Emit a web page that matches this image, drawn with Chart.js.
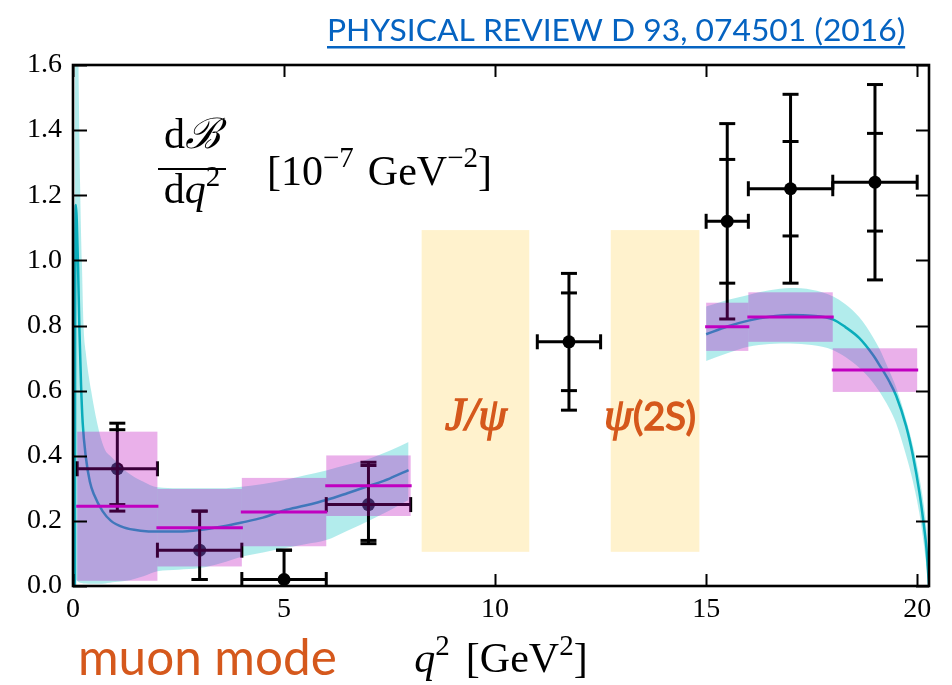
<!DOCTYPE html>
<html>
<head>
<meta charset="utf-8">
<script src="https://cdn.jsdelivr.net/npm/chart.js@4.4.1/dist/chart.umd.min.js"></script>
<style>
  html, body { margin: 0; padding: 0; background: #ffffff; }
  #wrap { position: relative; width: 952px; height: 685px; overflow: hidden; }
</style>
</head>
<body>
<div id="wrap"><canvas id="c" width="952" height="685"></canvas></div>
<script>
// ---- Axis ticks ----
const xTickValues = [0, 5, 10, 15, 20];
const yTickValues = [0.0, 0.2, 0.4, 0.6, 0.8, 1.0, 1.2, 1.4, 1.6];

// ---- Theory curve, low-q2 region: central value ----
const lowCurveQ2 = [0.045, 0.05, 0.06, 0.07, 0.09, 0.12, 0.15, 0.19, 0.23, 0.30, 0.40, 0.50, 0.70, 0.90, 1.2, 1.6, 2.0, 2.5, 3.0, 3.5, 4.0, 4.5, 5.0, 5.5, 6.0, 6.5, 7.0, 7.5, 7.95];
const lowCurve   = [0.0, 0.80, 1.12, 1.17, 1.12, 0.98, 0.80, 0.62, 0.50, 0.40, 0.32, 0.28, 0.23, 0.20, 0.18, 0.17, 0.167, 0.167, 0.172, 0.182, 0.195, 0.21, 0.232, 0.247, 0.264, 0.285, 0.307, 0.33, 0.356];

// ---- Theory band, low-q2 region ----
const lowBandQ2    = [0.045, 0.05, 0.07, 0.10, 0.13, 0.17, 0.21, 0.25, 0.30, 0.43, 0.62, 0.76, 0.88, 1.0, 1.27, 1.67, 2.0, 2.5, 3.0, 3.5, 4.0, 4.5, 5.0, 5.5, 6.0, 6.5, 7.0, 7.5, 7.95];
const lowBandUpper = [0.0, 1.80, 2.30, 1.95, 1.60, 1.22, 1.00, 0.80, 0.72, 0.60, 0.474, 0.418, 0.40, 0.385, 0.351, 0.32, 0.303, 0.30, 0.30, 0.30, 0.305, 0.313, 0.325, 0.34, 0.355, 0.372, 0.39, 0.415, 0.442];
const lowBandLower = [0.0, 0.02, 0.02, 0.015, 0.012, 0.010, 0.009, 0.008, 0.008, 0.007, 0.007, 0.008, 0.010, 0.012, 0.016, 0.03, 0.045, 0.05, 0.055, 0.07, 0.09, 0.103, 0.116, 0.128, 0.141, 0.17, 0.20, 0.232, 0.264];

// ---- Theory curve and band, high-q2 region ----
const highQ2      = [15.0, 15.5, 16.0, 16.5, 17.0, 17.5, 18.0, 18.3, 18.63, 18.95, 19.1, 19.34, 19.5, 19.74, 19.9, 20.05, 20.15, 20.22, 20.28];
const highCurve   = [0.773, 0.797, 0.815, 0.827, 0.832, 0.83, 0.819, 0.795, 0.761, 0.71, 0.68, 0.628, 0.585, 0.49, 0.40, 0.29, 0.195, 0.115, 0.0];
const highUpper   = [0.858, 0.878, 0.894, 0.908, 0.915, 0.91, 0.89, 0.865, 0.825, 0.765, 0.73, 0.66, 0.61, 0.51, 0.43, 0.335, 0.255, 0.175, 0.0];
const highLower   = [0.691, 0.715, 0.735, 0.743, 0.745, 0.74, 0.725, 0.703, 0.67, 0.625, 0.598, 0.545, 0.50, 0.40, 0.32, 0.225, 0.135, 0.06, 0.0];

// ---- Binned theory predictions ----
const thBinLo = [0.1, 2, 4, 6, 15, 16, 18];
const thBinHi = [2, 4, 6, 8, 16, 18, 20];
const thValue = [0.245, 0.179, 0.227, 0.308, 0.796, 0.826, 0.663];
const thError = [0.229, 0.119, 0.105, 0.093, 0.074, 0.076, 0.067];

// ---- Measurement ----
const dataBinLo  = [0.1, 2, 4, 6, 11, 15, 16, 18];
const dataBinHi  = [2, 4, 6, 8, 12.5, 16, 18, 20];
const dataQ2     = [1.05, 3.0, 5.0, 7.0, 11.75, 15.5, 17.0, 19.0];
const dataValue  = [0.36, 0.11, 0.02, 0.25, 0.75, 1.12, 1.22, 1.24];
const dataStatUp = [0.12, 0.12, 0.09, 0.12, 0.15, 0.19, 0.145, 0.15];
const dataStatDn = [0.11, 0.09, 0.09, 0.11, 0.15, 0.19, 0.145, 0.15];
const dataTotUp  = [0.14, 0.12, 0.09, 0.13, 0.21, 0.30, 0.29, 0.30];
const dataTotDn  = [0.13, 0.09, 0.09, 0.12, 0.21, 0.30, 0.29, 0.30];

// ---- Charmonium veto windows ----
const vetoLo = [8.26, 12.74];
const vetoHi = [10.81, 14.84];
const vetoBottom = [0.105, 0.105];
const vetoTop = [1.093, 1.093];

const SERIF = '"Liberation Serif", "DejaVu Serif", serif';
const SANS = 'Lato, "Open Sans", sans-serif';
const ORANGE = '#d5581c';
const CYAN_FILL = 'rgba(0, 191, 191, 0.30)';
const CURVE_COLOR = 'rgb(15, 165, 185)';
const BOX_FILL = 'rgba(186, 0, 186, 0.31)';
const BOX_LINE = '#c000c0';

const pts = (xs, ys) => xs.map((x, i) => ({ x, y: ys[i] }));

function runsWidth(ctx, runs) {
  let w = 0;
  for (const r of runs) { ctx.font = r.font; w += ctx.measureText(r.t).width + (r.gap || 0); }
  return w;
}
function drawRuns(ctx, runs, x, base) {
  for (const r of runs) {
    ctx.font = r.font;
    ctx.fillText(r.t, x, base - (r.rise || 0));
    x += ctx.measureText(r.t).width + (r.gap || 0);
  }
  return x;
}

const overlay = {
  id: 'overlay',
  afterDatasetsDraw(chart) {
    const { ctx, chartArea: a, scales: { x, y } } = chart;
    ctx.save();
    ctx.beginPath();
    ctx.rect(a.left, a.top, a.right - a.left, a.bottom - a.top);
    ctx.clip();

    // error bars of the measurement
    ctx.strokeStyle = '#000';
    ctx.lineWidth = 3;
    const seg = (x1, y1, x2, y2) => { ctx.beginPath(); ctx.moveTo(x1, y1); ctx.lineTo(x2, y2); ctx.stroke(); };
    for (let i = 0; i < dataQ2.length; i++) {
      const px = x.getPixelForValue(dataQ2[i]);
      const py = y.getPixelForValue(dataValue[i]);
      const xl = x.getPixelForValue(dataBinLo[i]);
      const xr = x.getPixelForValue(dataBinHi[i]);
      seg(xl, py, xr, py);
      seg(xl, py - 7.5, xl, py + 7.5);
      seg(xr, py - 7.5, xr, py + 7.5);
      const yt = y.getPixelForValue(dataValue[i] + dataTotUp[i]);
      const yb = y.getPixelForValue(dataValue[i] - dataTotDn[i]);
      const st = y.getPixelForValue(dataValue[i] + dataStatUp[i]);
      const sb = y.getPixelForValue(dataValue[i] - dataStatDn[i]);
      seg(px, yt, px, yb);
      for (const cy of [yt, yb, st, sb]) seg(px - 8, cy, px + 8, cy);
    }

    // binned theory boxes
    for (let i = 0; i < thValue.length; i++) {
      const xl = x.getPixelForValue(thBinLo[i]);
      const xr = x.getPixelForValue(thBinHi[i]);
      const yt = y.getPixelForValue(thValue[i] + thError[i]);
      const yb = y.getPixelForValue(thValue[i] - thError[i]);
      ctx.fillStyle = BOX_FILL;
      ctx.fillRect(xl, yt, xr - xl, yb - yt);
    }
    ctx.strokeStyle = BOX_LINE;
    ctx.lineWidth = 3;
    for (let i = 0; i < thValue.length; i++) {
      const yv = y.getPixelForValue(thValue[i]);
      seg(x.getPixelForValue(thBinLo[i]) - 1, yv, x.getPixelForValue(thBinHi[i]) + 1, yv);
    }

    // charmonium veto windows
    ctx.fillStyle = '#fff2cd';
    for (let i = 0; i < vetoLo.length; i++) {
      const xl = x.getPixelForValue(vetoLo[i]);
      const xr = x.getPixelForValue(vetoHi[i]);
      const yt = y.getPixelForValue(vetoTop[i]);
      const yb = y.getPixelForValue(vetoBottom[i]);
      ctx.fillRect(xl, yt, xr - xl, yb - yt);
    }
    ctx.restore();
  },
  afterDraw(chart) {
    const { ctx, chartArea: a, scales: { x, y } } = chart;
    ctx.save();
    // frame and inward ticks
    ctx.strokeStyle = '#000';
    ctx.lineWidth = 2;
    for (const v of yTickValues) {
      const py = Math.round(y.getPixelForValue(v)) + 0.5;
      ctx.beginPath(); ctx.moveTo(a.left, py); ctx.lineTo(a.left + 14, py); ctx.stroke();
      ctx.beginPath(); ctx.moveTo(a.right, py); ctx.lineTo(a.right - 13, py); ctx.stroke();
    }
    for (const v of xTickValues) {
      const px = Math.round(x.getPixelForValue(v)) + 0.5;
      ctx.beginPath(); ctx.moveTo(px, a.bottom); ctx.lineTo(px, a.bottom - 12); ctx.stroke();
      ctx.beginPath(); ctx.moveTo(px, a.top); ctx.lineTo(px, a.top + 12); ctx.stroke();
    }
    ctx.lineWidth = 2.6;
    ctx.strokeRect(a.left, a.top, a.right - a.left, a.bottom - a.top);

    ctx.textBaseline = 'alphabetic';
    ctx.textAlign = 'left';
    ctx.fillStyle = '#000';

    // quantity label inside the axes
    const big = '42px ' + SERIF;
    const itBig = 'italic 42px ' + SERIF;
    const sup = '29px ' + SERIF;
    const num = [{ t: 'd', font: big }, { t: '\u212C', font: itBig }];
    const den = [{ t: 'd', font: big }, { t: 'q', font: itBig }, { t: '2', font: sup, rise: 17 }];
    const cx = 192;
    drawRuns(ctx, num, cx - runsWidth(ctx, num) / 2, 148);
    drawRuns(ctx, den, cx - runsWidth(ctx, den) / 2, 203);
    ctx.fillRect(158, 168, 68, 2);
    drawRuns(ctx, [
      { t: '[10', font: big },
      { t: '\u22127', font: sup, rise: 18, gap: 14 },
      { t: 'GeV', font: big },
      { t: '\u22122', font: sup, rise: 18 },
      { t: ']', font: big }
    ], 267, 185);

    // x axis title
    const xl = [
      { t: 'q', font: itBig },
      { t: '2', font: sup, rise: 17, gap: 16 },
      { t: '[GeV', font: big },
      { t: '2', font: sup, rise: 17 },
      { t: ']', font: big }
    ];
    drawRuns(ctx, xl, (a.left + a.right) / 2 - runsWidth(ctx, xl) / 2, 672);

    // resonance labels
    ctx.fillStyle = ORANGE;
    ctx.strokeStyle = ORANGE;
    ctx.lineWidth = 1.5;
    ctx.font = 'italic 46px ' + SERIF;
    const jw = ctx.measureText('J/\u03C8').width;
    ctx.fillText('J/\u03C8', 476 - jw / 2, 430);
    ctx.strokeText('J/\u03C8', 476 - jw / 2, 430);
    ctx.font = 'italic 46px ' + SERIF;
    ctx.fillText('\u03C8', 604, 430);
    ctx.strokeText('\u03C8', 604, 430);
    ctx.font = '38px ' + SANS;
    ctx.fillText('(2S)', 633, 430);
    ctx.strokeText('(2S)', 633, 430);

    // mode label
    ctx.font = '46px ' + SANS;
    let mw = ctx.measureText('muon mode').width;
    ctx.font = (46 * 259 / mw).toFixed(1) + 'px ' + SANS;
    ctx.fillText('muon mode', 78, 675);

    // reference line
    ctx.fillStyle = '#0563c1';
    ctx.font = '36px ' + SANS;
    let tw = ctx.measureText('PHYSICAL REVIEW D 93, 074501 (2016)').width;
    const ts = 36 * 579 / tw;
    ctx.font = ts.toFixed(1) + 'px ' + SANS;
    tw = ctx.measureText('PHYSICAL REVIEW D 93, 074501 (2016)').width;
    ctx.fillText('PHYSICAL REVIEW D 93, 074501 (2016)', 327, 41);
    ctx.fillRect(327, 46, tw, 2.5);
    ctx.restore();
  }
};

const lineSet = (data, extra) => Object.assign({
  type: 'line', data, showLine: true, pointRadius: 0, borderColor: 'rgba(0,0,0,0)',
  borderWidth: 1, fill: false, cubicInterpolationMode: 'monotone'
}, extra);

new Chart(document.getElementById('c'), {
  type: 'line',
  data: {
    datasets: [
      lineSet(pts(lowBandQ2, lowBandUpper), { fill: '+1', backgroundColor: CYAN_FILL }),
      lineSet(pts(lowBandQ2, lowBandLower)),
      lineSet(pts(highQ2, highUpper), { fill: '+1', backgroundColor: CYAN_FILL }),
      lineSet(pts(highQ2, highLower)),
      lineSet(pts(lowCurveQ2, lowCurve), { borderColor: CURVE_COLOR, borderWidth: 2.5 }),
      lineSet(pts(highQ2, highCurve), { borderColor: CURVE_COLOR, borderWidth: 2.5 }),
      {
        type: 'line', data: pts(dataQ2, dataValue), showLine: false,
        pointRadius: 6.5, pointBackgroundColor: '#000', pointBorderWidth: 0,
        pointBorderColor: '#000', clip: 0
      }
    ]
  },
  options: {
    responsive: false,
    animation: false,
    devicePixelRatio: 1,
    layout: { padding: { top: 65, right: 23, left: 0, bottom: 0 } },
    plugins: { legend: { display: false }, tooltip: { enabled: false }, title: { display: false } },
    scales: {
      x: {
        type: 'linear', min: 0, max: 20.28,
        grid: { display: false, drawTicks: false },
        border: { display: false },
        afterBuildTicks: s => { s.ticks = xTickValues.map(v => ({ value: v })); },
        afterFit: s => { s.height = 99; },
        ticks: { padding: 7, color: '#000', font: { family: SERIF, size: 28 }, maxRotation: 0, callback: v => String(v) }
      },
      y: {
        type: 'linear', min: 0, max: 1.6,
        grid: { display: false, drawTicks: false },
        border: { display: false },
        afterBuildTicks: s => { s.ticks = yTickValues.map(v => ({ value: v })); },
        afterFit: s => { s.width = 73; },
        ticks: { padding: 11, color: '#000', font: { family: SERIF, size: 28 }, callback: v => Number(v).toFixed(1) }
      }
    }
  },
  plugins: [overlay]
});
</script>
</body>
</html>
